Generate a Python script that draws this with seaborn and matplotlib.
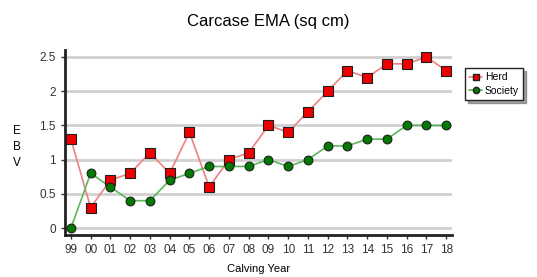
import pandas as pd
import seaborn as sns
import matplotlib.pyplot as plt
from matplotlib.lines import Line2D

# Carcase EMA EBV by calving year
years = ['99', '00', '01', '02', '03', '04', '05', '06', '07', '08',
         '09', '10', '11', '12', '13', '14', '15', '16', '17', '18']
herd = [1.3, 0.3, 0.7, 0.8, 1.1, 0.8, 1.4, 0.6, 1.0, 1.1,
        1.5, 1.4, 1.7, 2.0, 2.3, 2.2, 2.4, 2.4, 2.5, 2.3]
society = [0.0, 0.8, 0.6, 0.4, 0.4, 0.7, 0.8, 0.9, 0.9, 0.9,
           1.0, 0.9, 1.0, 1.2, 1.2, 1.3, 1.3, 1.5, 1.5, 1.5]

df = pd.DataFrame({
    'x': list(range(len(years))) * 2,
    'EBV': herd + society,
    'group': ['Herd'] * len(years) + ['Society'] * len(years),
})

sns.set_style('white')
plt.rcParams['font.family'] = ['Liberation Sans', 'DejaVu Sans']
plt.rcParams['text.color'] = 'black'

fig = plt.figure(figsize=(5.37, 2.77), dpi=100)
ax = fig.add_axes([0.121, 0.152, 0.721, 0.667])

for v in [0, 0.5, 1, 1.5, 2, 2.5]:
    ax.axhline(v, color='#d0d0d0', lw=2, zorder=0)

palette = {'Herd': '#f08080', 'Society': '#5cb85c'}
sns.lineplot(data=df, x='x', y='EBV', hue='group', palette=palette, lw=1.2,
             legend=False, ax=ax, zorder=2)
h = df[df.group == 'Herd']
s = df[df.group == 'Society']
ax.scatter(h.x, h.EBV, marker='s', s=55, color='#ee0000', edgecolor='#202020',
           linewidth=0.8, zorder=3)
ax.scatter(s.x, s.EBV, marker='o', s=40, color='#007a00', edgecolor='#202020',
           linewidth=0.8, zorder=3)

ax.set_xlim(-0.3, 19.3)
ax.set_ylim(-0.1, 2.6)
ax.set_xticks(range(len(years)))
ax.set_xticklabels(years)
ax.set_yticks([0, 0.5, 1, 1.5, 2, 2.5])
ax.set_yticklabels(['0', '0.5', '1', '1.5', '2', '2.5'])
ax.tick_params(axis='both', labelsize=8.5, colors='#333333', length=3, width=1,
               left=True, bottom=True)

for side in ['top', 'right']:
    ax.spines[side].set_visible(False)
for side in ['left', 'bottom']:
    ax.spines[side].set_linewidth(2)
    ax.spines[side].set_color('#222222')

ax.set_xlabel('Calving Year', fontsize=8, labelpad=6, color='black')
ax.set_ylabel('')
fig.text(0.032, 0.47, 'E\nB\nV', ha='center', va='center', fontsize=8.5,
         linespacing=1.45, color='black')
fig.suptitle('Carcase EMA (sq cm)', fontsize=12, x=0.5, y=0.95, color='black')

handles = [
    Line2D([], [], color='#f08080', marker='s', markersize=5,
           markerfacecolor='#ee0000', markeredgecolor='#202020', lw=1.2),
    Line2D([], [], color='#5cb85c', marker='o', markersize=4.5,
           markerfacecolor='#007a00', markeredgecolor='#202020', lw=1.2),
]
leg = ax.legend(handles, ['Herd', 'Society'], loc='upper left',
                bbox_to_anchor=(1.02, 0.93), fontsize=7.5, frameon=True,
                shadow=True, fancybox=False, handlelength=1.2,
                handletextpad=0.3, borderpad=0.4, labelspacing=0.3)
leg.get_frame().set_edgecolor('#222222')
leg.get_frame().set_linewidth(1)

fig.savefig('out.png', dpi=100)
